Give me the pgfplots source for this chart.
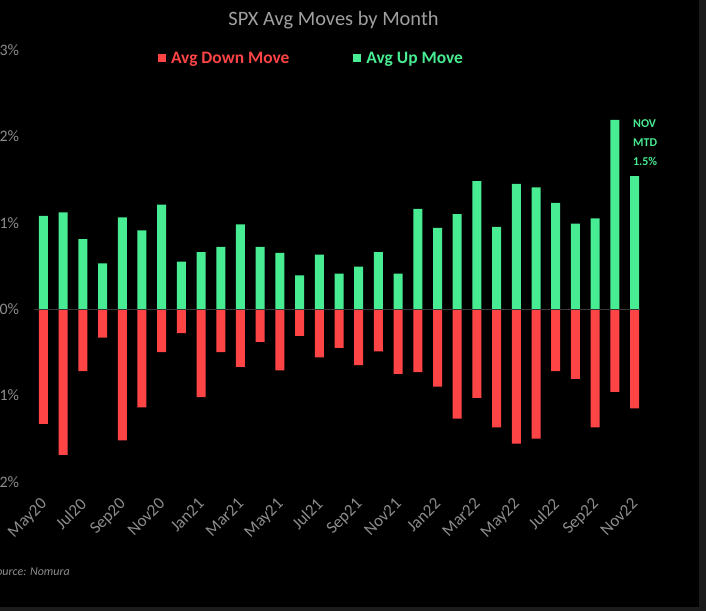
\documentclass[border=0pt]{standalone}
\usepackage{fontspec}
\setmainfont{Carlito}
\usepackage{pgfplots}
\pgfplotsset{compat=1.18}
\definecolor{upg}{RGB}{72,236,146}
\definecolor{dnr}{RGB}{255,68,70}
\definecolor{lblgray}{RGB}{140,140,140}
\definecolor{titlegray}{RGB}{160,160,160}
\definecolor{edgegray}{RGB}{28,28,28}
\begin{document}
\begin{tikzpicture}
\fill[black] (0,0) rectangle (706bp,611bp);
\fill[edgegray] (699bp,0) rectangle (706bp,611bp);
\fill[edgegray] (0,0) rectangle (706bp,4.3bp);
\begin{axis}[
  at={(33.6bp,129.3bp)}, anchor=south west,
  scale only axis, width=610.8bp, height=431.7bp,
  xmin=0.5, xmax=31.5, ymin=-2, ymax=3,
  clip=false,
  axis line style={draw=none},
  major tick style={draw=none},
  xtick={1,3,...,31},
  xticklabels={May20,Jul20,Sep20,Nov20,Jan21,Mar21,May21,Jul21,Sep21,Nov21,Jan22,Mar22,May22,Jul22,Sep22,Nov22},
  ytick={-2,-1,0,1,2,3},
  yticklabels={-2\%,-1\%,0\%,1\%,2\%,3\%},
  tick label style={text=lblgray, font=\fontsize{16}{18}\selectfont},
  yticklabel style={xshift=-11bp},
  xticklabel style={rotate=45, anchor=north east, inner sep=0pt, yshift=-5bp, xshift=-10.4bp, font=\fontsize{17}{19}\selectfont},
  ybar, bar width=9bp, bar shift=0pt,
  legend style={at={(0.455,0.981)}, anchor=center, draw=none, fill=none,
    legend columns=2, font=\bfseries\fontsize{17.5}{19}\selectfont,
    /tikz/every even column/.append style={column sep=62bp}},
  legend image code/.code={\fill[#1] (0bp,-4bp) rectangle (8bp,4bp); \path (11bp,0bp);},
]
\addplot[fill=dnr, draw=none] coordinates {
(1,-1.33) (2,-1.69) (3,-0.72) (4,-0.33) (5,-1.52) (6,-1.14) (7,-0.50) (8,-0.28)
(9,-1.02) (10,-0.50) (11,-0.67) (12,-0.38) (13,-0.71) (14,-0.31) (15,-0.56) (16,-0.45)
(17,-0.65) (18,-0.49) (19,-0.75) (20,-0.73) (21,-0.90) (22,-1.27) (23,-1.03) (24,-1.37)
(25,-1.56) (26,-1.50) (27,-0.72) (28,-0.81) (29,-1.37) (30,-0.96) (31,-1.15)};
\addlegendentry{\textcolor{dnr}{Avg Down Move}}
\addplot[fill=upg, draw=none] coordinates {
(1,1.08) (2,1.12) (3,0.81) (4,0.53) (5,1.06) (6,0.91) (7,1.21) (8,0.55)
(9,0.66) (10,0.72) (11,0.98) (12,0.72) (13,0.65) (14,0.39) (15,0.63) (16,0.41)
(17,0.49) (18,0.66) (19,0.41) (20,1.16) (21,0.94) (22,1.10) (23,1.48) (24,0.95)
(25,1.45) (26,1.41) (27,1.23) (28,0.99) (29,1.05) (30,2.19) (31,1.54)};
\addlegendentry{\textcolor{upg}{Avg Up Move}}
\draw[gray!45!black, line width=0.8bp] (axis cs:0.5,0) -- (axis cs:31.3,0);
\node[anchor=north west, text=upg, font=\bfseries\fontsize{12}{19}\selectfont, align=left, inner sep=0pt] at (axis cs:30.92,2.19) {NOV\\MTD\\1.5\%};
\end{axis}
\node[text=titlegray, font=\fontsize{20.5}{23}\selectfont] at (333.5bp,591bp) {SPX Avg Moves by Month};
\node[anchor=east, text=lblgray, font=\itshape\fontsize{12}{14}\selectfont, inner sep=0pt] at (70bp,39.3bp) {Source: Nomura};
\pgfresetboundingbox
\useasboundingbox (0,0) rectangle (706bp,611bp);
\end{tikzpicture}
\end{document}
